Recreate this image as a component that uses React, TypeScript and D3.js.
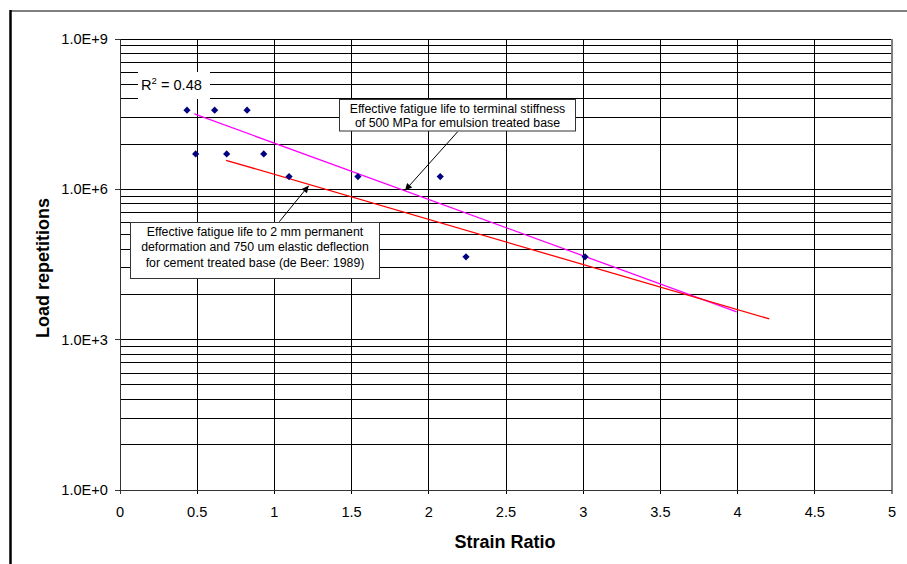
import React from "react";
import * as d3 from "d3";

// scatter points (strain ratio, load repetitions)
const strainRatio = [0.434, 0.613, 0.823, 0.49, 0.691, 0.931, 1.095, 1.541, 2.074, 2.241, 3.012];
const repetitions = [3.8e7, 3.8e7, 3.8e7, 5.1e6, 5.1e6, 5.1e6, 1.8e6, 1.8e6, 1.8e6, 4.5e4, 4.5e4];

// trend lines, read at their end points
const emulsionLine = [
  { x: 0.481, y: 3.2e7 },
  { x: 3.994, y: 3.6e3 },
];
const cementLine = [
  { x: 0.687, y: 3.8e6 },
  { x: 4.205, y: 2.6e3 },
];

const xTicks = [0, 0.5, 1, 1.5, 2, 2.5, 3, 3.5, 4, 4.5, 5];
const yMajor = [1, 1e3, 1e6, 1e9];
const yLabels = ["1.0E+0", "1.0E+3", "1.0E+6", "1.0E+9"];
// excel puts the minor lines of a base-1000 axis at k^3 of each major step
const minorFactors = [8, 27, 64, 125, 216, 343, 512, 729];

const FONT = "Arial, 'Liberation Sans', sans-serif";

function App() {
  const x = d3.scaleLinear().domain([0, 5]).range([120, 892]);
  const y = d3.scaleLog().domain([1, 1e9]).range([490, 39]);

  const minor = yMajor.slice(0, 3).flatMap((m) => minorFactors.map((k) => m * k));
  const line = d3
    .line<{ x: number; y: number }>()
    .x((d) => x(d.x))
    .y((d) => y(d.y));
  const diamond = d3.symbol(d3.symbolSquare, 26)();

  const note1 = ["Effective fatigue life to terminal stiffness", "of 500 MPa for emulsion treated base"];
  const note2 = [
    "Effective fatigue life to 2 mm permanent",
    "deformation and 750 um elastic deflection",
    "for cement treated base (de Beer: 1989)",
  ];

  return (
    <svg
      width={907}
      height={564}
      style={{ position: "absolute", left: 0, top: 0, background: "#fff" }}
      fontFamily={FONT}
    >
      <defs>
        <marker id="arr" viewBox="0 0 10 10" refX="10" refY="5" markerWidth="9" markerHeight="7" orient="auto" markerUnits="userSpaceOnUse">
          <path d="M0,0 L10,5 L0,10 z" fill="#000" />
        </marker>
      </defs>

      {/* outer frame */}
      <line x1={10} x2={907} y1={11} y2={11} stroke="#555" strokeWidth={1.3} />
      <line x1={10.5} x2={10.5} y1={10} y2={564} stroke="#000" strokeWidth={2.5} />

      {/* gridlines */}
      <g shapeRendering="crispEdges">
        {minor.map((v, i) => (
          <line key={"m" + i} x1={x(0)} x2={x(5)} y1={y(v)} y2={y(v)} stroke="#000" />
        ))}
        {yMajor.slice(1).map((v) => (
          <line key={"M" + v} x1={x(0)} x2={x(5)} y1={y(v)} y2={y(v)} stroke="#000" />
        ))}
        {xTicks.slice(1, -1).map((t) => (
          <line key={"v" + t} x1={x(t)} x2={x(t)} y1={y(1e9)} y2={y(1) + 4} stroke="#000" />
        ))}
        <line x1={x(5)} x2={x(5)} y1={y(1e9)} y2={y(1) + 4} stroke="#808080" strokeWidth={2} />
        {/* axes */}
        <line x1={x(0)} x2={x(0)} y1={y(1e9)} y2={y(1) + 4} stroke="#333" />
        <line x1={x(0) - 5} x2={x(5)} y1={y(1)} y2={y(1)} stroke="#333" />
        {yMajor.map((v) => (
          <line key={"t" + v} x1={x(0) - 5} x2={x(0)} y1={y(v)} y2={y(v)} stroke="#333" />
        ))}
      </g>

      {/* tick labels */}
      {yMajor.map((v, i) => (
        <text key={"yl" + v} x={108} y={y(v) + 5} fontSize={14.6} textAnchor="end">
          {yLabels[i]}
        </text>
      ))}
      {xTicks.map((t) => (
        <text key={"xl" + t} x={x(t)} y={517} fontSize={14.6} textAnchor="middle">
          {t}
        </text>
      ))}

      {/* axis titles */}
      <text x={505} y={548} fontSize={18} fontWeight="bold" textAnchor="middle">
        Strain Ratio
      </text>
      <text
        transform="translate(49,268) rotate(-90)"
        fontSize={18}
        fontWeight="bold"
        textAnchor="middle"
      >
        Load repetitions
      </text>

      {/* trend lines */}
      <path d={line(emulsionLine) ?? ""} fill="none" stroke="#ff00ff" strokeWidth={1.3} />
      <path d={line(cementLine) ?? ""} fill="none" stroke="#ff0000" strokeWidth={1.3} />

      {/* points */}
      {strainRatio.map((s, i) => (
        <path
          key={"p" + i}
          d={diamond ?? ""}
          transform={`translate(${x(s)},${y(repetitions[i])}) rotate(45)`}
          fill="#000080"
        />
      ))}

      {/* R squared label */}
      <rect x={138} y={72} width={72} height={27} fill="#fff" />
      <text x={141} y={90} fontSize={14.6}>
        R<tspan dy={-6} fontSize={9.5}>2</tspan>
        <tspan dy={6}> = 0.48</tspan>
      </text>

      {/* annotation 1 */}
      <rect x={339.5} y={99.5} width={236} height={31.5} fill="#fff" stroke="#333" />
      {note1.map((t, i) => (
        <text key={"n1" + i} x={457.5} y={112.5 + i * 14.5} fontSize={12.3} textAnchor="middle">
          {t}
        </text>
      ))}
      <line x1={457.7} y1={131.7} x2={405} y2={190.5} stroke="#000" markerEnd="url(#arr)" />

      {/* annotation 2 */}
      <rect x={130.5} y={222.5} width={249} height={56} fill="#fff" stroke="#333" />
      {note2.map((t, i) => (
        <text key={"n2" + i} x={255} y={235.5 + i * 15.5} fontSize={12.3} textAnchor="middle">
          {t}
        </text>
      ))}
      <line x1={279.3} y1={221.7} x2={308.7} y2={185.7} stroke="#000" markerEnd="url(#arr)" />
    </svg>
  );
}

export default App;
